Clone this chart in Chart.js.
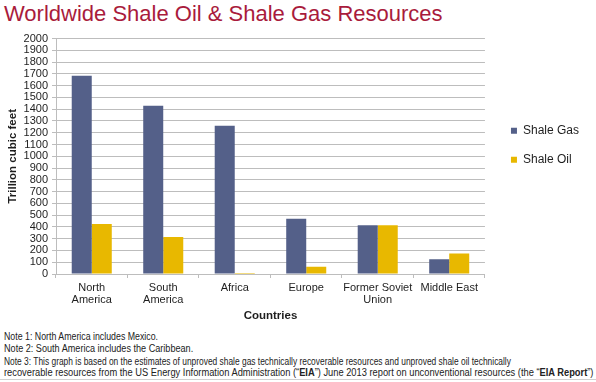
<!DOCTYPE html>
<html>
<head>
<meta charset="utf-8">
<title>Worldwide Shale Oil & Shale Gas Resources</title>
<script src="https://cdn.jsdelivr.net/npm/chart.js@4.4.0/dist/chart.umd.min.js"></script>
<style>
  html, body { margin: 0; padding: 0; background: #fff; }
  body { width: 596px; height: 382px; position: relative; overflow: hidden; font-family: "Liberation Sans", Arial, sans-serif; }
  #title { position: absolute; left: 4px; top: 1px; font-size: 22px; color: #a91b3c; white-space: nowrap; }
  #chartBox { position: absolute; left: 0; top: 28px; width: 596px; height: 298px; }
  .note { position: absolute; left: 4px; font-size: 10px; line-height: 11px; color: #222; white-space: nowrap; transform-origin: left top; }
  #bottomLine { position: absolute; left: 0; top: 379px; width: 596px; height: 1px; background: #d0d0d0; }
</style>
</head>
<body>
<div id="title">Worldwide Shale Oil &amp; Shale Gas Resources</div>
<div id="chartBox"><canvas id="shaleChart" width="596" height="298"></canvas></div>
<div class="note" style="top:331px; transform:scaleX(0.88)">Note 1: North America includes Mexico.</div>
<div class="note" style="top:343px; transform:scaleX(0.91)">Note 2: South America includes the Caribbean.</div>
<div class="note" style="top:356px; transform:scaleX(0.84)">Note 3: This graph is based on the estimates of unproved shale gas technically recoverable resources and unproved shale oil technically</div>
<div class="note" style="top:367px; transform:scaleX(0.93)">recoverable resources from the US Energy Information Administration (&ldquo;<b>EIA</b>&rdquo;) June 2013 report on unconventional resources (the &ldquo;<b>EIA Report</b>&rdquo;)</div>
<div id="bottomLine"></div>

<script>
// --- Data ---
const regions = [["North", "America"], ["South", "America"], "Africa", "Europe", ["Former Soviet", "Union"], "Middle East"];
const shaleGas = [1685, 1430, 1260, 470, 415, 125];   // trillion cubic feet
const shaleOil = [425, 315, 8, 62, 415, 175];
const yMin = 0;
const yMax = 2000;
const yStep = 100;

const GAS_COLOR = "#546089";
const OIL_COLOR = "#e8b800";
const GRID_COLOR = "#bdbdbd";
const TEXT_COLOR = "#1e1e1e";
const FONT = "'Liberation Sans', Arial, sans-serif";

// legend sits a bit higher and further right than Chart.js would put it
const legendNudge = {
  id: "legendNudge",
  afterLayout(chart) {
    const lg = chart.legend;
    if (!lg) return;
    lg.left += 9; lg.right += 9;
    lg.top -= 11; lg.bottom -= 11;
  }
};

const ctx = document.getElementById("shaleChart").getContext("2d");
const shaleChart = new Chart(ctx, {
  type: "bar",
  data: {
    labels: regions,
    datasets: [{
      label: "Shale Gas",
      data: shaleGas,
      backgroundColor: GAS_COLOR,
      barPercentage: 1,
      categoryPercentage: 0.56
    }, {
      label: "Shale Oil",
      data: shaleOil,
      backgroundColor: OIL_COLOR,
      barPercentage: 1,
      categoryPercentage: 0.56
    }]
  },
  options: {
    responsive: false,
    animation: false,
    devicePixelRatio: 1,
    layout: { padding: { top: 0, right: 16, bottom: 0, left: 0 } },
    scales: {
      x: {
        grid: { display: true, drawOnChartArea: false, offset: true, tickLength: 4, color: GRID_COLOR },
        border: { color: GRID_COLOR },
        ticks: { color: TEXT_COLOR, padding: 4, maxRotation: 0, autoSkip: false, font: { family: FONT, size: 11, lineHeight: 1.1 } },
        title: { display: true, text: "Countries", color: TEXT_COLOR, padding: { top: 0, bottom: 3 }, font: { family: FONT, size: 11.5, weight: "bold" } },
        afterFit(scale) { scale.height = 52; }
      },
      y: {
        min: yMin,
        max: yMax,
        grid: { color: GRID_COLOR, tickLength: 4 },
        border: { color: GRID_COLOR },
        ticks: {
          stepSize: yStep,
          autoSkip: false,
          color: TEXT_COLOR,
          padding: 4,
          font: { family: FONT, size: 11 },
          callback: (v) => String(v)   // no thousands separator
        },
        title: { display: true, text: "Trillion cubic feet", color: TEXT_COLOR, padding: { top: 6, bottom: 0 }, font: { family: FONT, size: 11.5, weight: "bold" } },
        afterFit(scale) { scale.width = 56; }
      }
    },
    plugins: {
      legend: {
        position: "right",
        fullSize: false,
        align: "center",
        labels: { boxWidth: 6, boxHeight: 6, padding: 17, color: TEXT_COLOR, font: { family: FONT, size: 12 } }
      },
      tooltip: { enabled: false }
    }
  },
  plugins: [legendNudge]
});
</script>
</body>
</html>
